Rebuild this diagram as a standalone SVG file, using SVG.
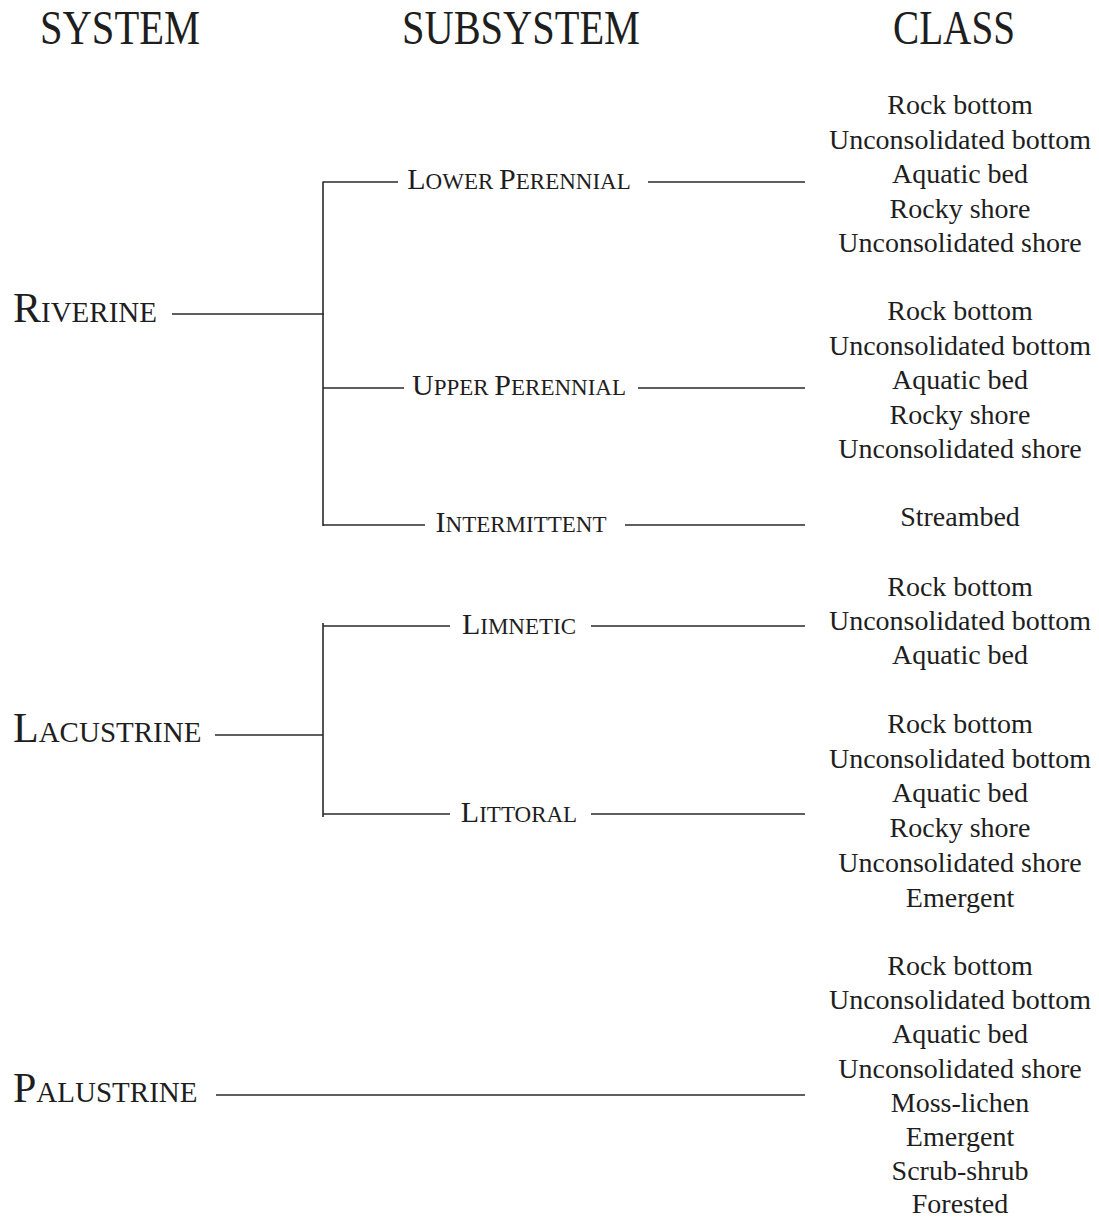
<svg xmlns="http://www.w3.org/2000/svg" width="1099" height="1220" viewBox="0 0 1099 1220">
<style>
text{font-family:"Liberation Serif","Times New Roman",serif;fill:#1e1e1e}
.hdr{font-size:48px;text-anchor:middle}
.sys{font-size:42px}
.sys .sc{font-size:29px}
.sub{font-size:30px;text-anchor:middle}
.sub .sc{font-size:23px}
.cls{font-size:28px;text-anchor:middle}
.conn line{stroke:#2a2a2a;stroke-width:1.6;fill:none}
</style>
<rect width="1099" height="1220" fill="#ffffff"/>
<g id="headers">
<text class="hdr" x="120" y="44" textLength="160" lengthAdjust="spacingAndGlyphs">SYSTEM</text>
<text class="hdr" x="521" y="44" textLength="238" lengthAdjust="spacingAndGlyphs">SUBSYSTEM</text>
<text class="hdr" x="954" y="44" textLength="122" lengthAdjust="spacingAndGlyphs">CLASS</text>
</g>
<g class="conn" id="connectors">
<line x1="172" y1="314" x2="324" y2="314"/>
<line x1="323" y1="181.5" x2="323" y2="526"/>
<line x1="323" y1="182" x2="398" y2="182"/>
<line x1="648" y1="182" x2="805" y2="182"/>
<line x1="323" y1="388" x2="404" y2="388"/>
<line x1="638" y1="388" x2="805" y2="388"/>
<line x1="323" y1="525" x2="425" y2="525"/>
<line x1="625" y1="525" x2="805" y2="525"/>
<line x1="215" y1="735" x2="323" y2="735"/>
<line x1="323" y1="623" x2="323" y2="817"/>
<line x1="323" y1="626" x2="450" y2="626"/>
<line x1="591" y1="626" x2="805" y2="626"/>
<line x1="323" y1="814" x2="450" y2="814"/>
<line x1="591" y1="814" x2="805" y2="814"/>
<line x1="216" y1="1095" x2="805" y2="1095"/>
</g>
<g id="riverine"><text class="sys" x="13" y="322">R<tspan class="sc">IVERINE</tspan></text></g>
<g id="lacustrine"><text class="sys" x="13" y="742">L<tspan class="sc">ACUSTRINE</tspan></text></g>
<g id="palustrine"><text class="sys" x="13" y="1102">P<tspan class="sc">ALUSTRINE</tspan></text></g>
<g id="lower-perennial"><text class="sub" x="519" y="189">L<tspan class="sc">OWER </tspan>P<tspan class="sc">ERENNIAL</tspan></text></g>
<g id="upper-perennial"><text class="sub" x="519" y="395">U<tspan class="sc">PPER </tspan>P<tspan class="sc">ERENNIAL</tspan></text></g>
<g id="intermittent"><text class="sub" x="521" y="532">I<tspan class="sc">NTERMITTENT</tspan></text></g>
<g id="limnetic"><text class="sub" x="519" y="634">L<tspan class="sc">IMNETIC</tspan></text></g>
<g id="littoral"><text class="sub" x="519" y="822">L<tspan class="sc">ITTORAL</tspan></text></g>
<g id="classes-lower-perennial">
<text class="cls" x="960" y="114">Rock bottom</text>
<text class="cls" x="960" y="148.5">Unconsolidated bottom</text>
<text class="cls" x="960" y="183">Aquatic bed</text>
<text class="cls" x="960" y="217.5">Rocky shore</text>
<text class="cls" x="960" y="252">Unconsolidated shore</text>
</g>
<g id="classes-upper-perennial">
<text class="cls" x="960" y="320">Rock bottom</text>
<text class="cls" x="960" y="354.5">Unconsolidated bottom</text>
<text class="cls" x="960" y="389">Aquatic bed</text>
<text class="cls" x="960" y="423.5">Rocky shore</text>
<text class="cls" x="960" y="458">Unconsolidated shore</text>
</g>
<g id="classes-intermittent">
<text class="cls" x="960" y="526">Streambed</text>
</g>
<g id="classes-limnetic">
<text class="cls" x="960" y="596">Rock bottom</text>
<text class="cls" x="960" y="630">Unconsolidated bottom</text>
<text class="cls" x="960" y="664">Aquatic bed</text>
</g>
<g id="classes-littoral">
<text class="cls" x="960" y="733">Rock bottom</text>
<text class="cls" x="960" y="768">Unconsolidated bottom</text>
<text class="cls" x="960" y="802">Aquatic bed</text>
<text class="cls" x="960" y="837">Rocky shore</text>
<text class="cls" x="960" y="872">Unconsolidated shore</text>
<text class="cls" x="960" y="907">Emergent</text>
</g>
<g id="classes-palustrine">
<text class="cls" x="960" y="975">Rock bottom</text>
<text class="cls" x="960" y="1009">Unconsolidated bottom</text>
<text class="cls" x="960" y="1043">Aquatic bed</text>
<text class="cls" x="960" y="1078">Unconsolidated shore</text>
<text class="cls" x="960" y="1112">Moss-lichen</text>
<text class="cls" x="960" y="1146">Emergent</text>
<text class="cls" x="960" y="1180">Scrub-shrub</text>
<text class="cls" x="960" y="1213">Forested</text>
</g>
</svg>
